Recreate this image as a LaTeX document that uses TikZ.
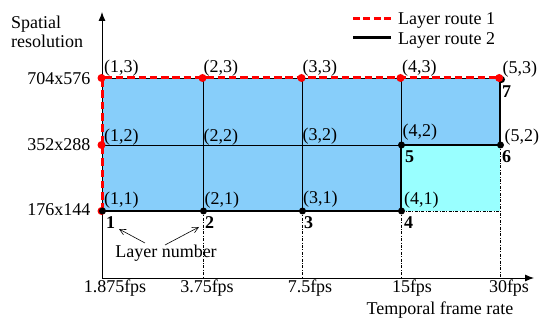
\documentclass[tikz,border=0pt]{standalone}
\usepackage{fontspec}
\setmainfont{Liberation Serif}
\usetikzlibrary{arrows.meta}
\definecolor{skyfill}{HTML}{87CEFA}
\definecolor{cyanfill}{HTML}{99FFFF}
\begin{document}
\begin{tikzpicture}[x=1pt,y=-1pt, font=\fontsize{18}{20}\selectfont,
  gridline/.style={line width=0.8pt},
  routeone/.style={red, line width=3pt, dash pattern=on 7.5pt off 3.8pt},
  routetwo/.style={black, line width=2.8pt},
  dashdot/.style={line width=0.6pt, dash pattern=on 3pt off 1.5pt on 0.8pt off 1.5pt},
  axisline/.style={line width=0.9pt, -{Latex[length=9pt,width=7pt]}},
  pointer/.style={line width=0.6pt, -{Straight Barb[length=6pt,width=6pt]}},
  lab/.style={anchor=base west, inner sep=0pt},
  lnum/.style={anchor=base west, inner sep=0pt, font=\fontsize{18}{20}\selectfont\bfseries},
  txt/.style={inner sep=0pt},
  rdot/.style={circle, fill=red, inner sep=0pt, minimum size=8pt},
  bdot/.style={circle, fill=black, inner sep=0pt, minimum size=7pt}]
\useasboundingbox (0,0) rectangle (542,320);
% grid points
\coordinate (p11) at (102,211); \coordinate (p21) at (203,211); \coordinate (p31) at (302,211);
\coordinate (p41) at (401,211); \coordinate (p51) at (500,211);
\coordinate (p12) at (102,145); \coordinate (p22) at (203,145); \coordinate (p32) at (302,145);
\coordinate (p42) at (401,145); \coordinate (p52) at (500,145);
\coordinate (p13) at (102,78); \coordinate (p23) at (203,78); \coordinate (p33) at (302,78);
\coordinate (p43) at (401,78); \coordinate (p53) at (500,78);
\coordinate (o) at (102,278); \coordinate (ytop) at (102,12); \coordinate (xend) at (534,278);
\coordinate (b2) at (203,278); \coordinate (b3) at (302,278); \coordinate (b4) at (401,278); \coordinate (b5) at (500,278);
% fills
\fill[skyfill] (p11) rectangle (p53);
\fill[cyanfill] (p41) rectangle (p52);
% grid
\draw[gridline] (p12) -- (p42);
\draw[gridline] (p13) -- (p53);
\draw[gridline] (p21) -- (p23);
\draw[gridline] (p31) -- (p33);
\draw[gridline] (p41) -- (p43);
% dash-dot lines
\draw[dashdot] (p21) -- (b2);
\draw[dashdot] (p31) -- (b3);
\draw[dashdot] (p41) -- (b4);
\draw[dashdot] (p52) -- (b5);
\draw[dashdot] (p41) -- (p51);
% axes
\draw[axisline] (o) -- (ytop);
\draw[axisline] (o) -- (xend);
% routes
\draw[routeone] (p11) -- (p13) -- (p53);
\foreach \p in {p11,p12,p13,p23,p33,p43} \node[rdot] at ([xshift=-0.5pt]\p) {};
\draw[routetwo] (p11) -- (p41) -- (p42) -- (p52) -- (p53);
\foreach \p in {p11,p21,p31,p41,p42,p52} \node[bdot] at ([xshift=0.5pt]\p) {};
\node[bdot] at ([shift={(1.5,1.5)}]p53) {};
\node[rdot] at ([xshift=-0.8pt]p53) {};
% point labels
\node[lab] (l13) at ([shift={(2,-5.5)}]p13) {(1,3)};
\node[lab] (l23) at ([shift={(0.5,-5.5)}]p23) {(2,3)};
\node[lab] (l33) at ([shift={(0.5,-5.5)}]p33) {(3,3)};
\node[lab] (l43) at ([shift={(1,-5.5)}]p43) {(4,3)};
\node[lab] (l53) at ([shift={(2.5,-4)}]p53) {(5,3)};
\node[lab] (l12) at ([shift={(2,-3)}]p12) {(1,2)};
\node[lab] (l22) at ([shift={(0.5,-3)}]p22) {(2,2)};
\node[lab] (l32) at ([shift={(0.5,-4.5)}]p32) {(3,2)};
\node[lab] (l42) at ([shift={(1.5,-8)}]p42) {(4,2)};
\node[lab] (l52) at ([shift={(4.5,-3.5)}]p52) {(5,2)};
\node[lab] (l11) at ([shift={(2,-6)}]p11) {(1,1)};
\node[lab] (l21) at ([shift={(1.5,-6)}]p21) {(2,1)};
\node[lab] (l31) at ([shift={(1,-7)}]p31) {(3,1)};
\node[lab] (l41) at ([shift={(3,-6)}]p41) {(4,1)};
% layer numbers
\node[lnum] (n1) at ([shift={(4,18)}]p11) {1};
\node[lnum] (n2) at ([shift={(2,18)}]p21) {2};
\node[lnum] (n3) at ([shift={(2,18)}]p31) {3};
\node[lnum] (n4) at ([shift={(3,18)}]p41) {4};
\node[lnum] (n5) at ([shift={(4,18)}]p42) {5};
\node[lnum] (n6) at ([shift={(2,18)}]p52) {6};
\node[lnum] (n7) at ([shift={(2,20)}]p53) {7};
% layer number annotation
\node[txt, anchor=base] (ln) at (166,258) {Layer number};
\coordinate (a1s) at (145,243); \coordinate (a1e) at (119,229);
\coordinate (a2s) at (165,245); \coordinate (a2e) at (199,227);
\draw[pointer] (a1s) -- (a1e);
\draw[pointer] (a2s) -- (a2e);
% axis labels
\node[txt, anchor=base west] (ys1) at (11,28.5) {Spatial};
\node[txt, anchor=base west] (ys2) at (11,47.5) {resolution};
\node[txt, anchor=base east] (y3) at (90.5,84.5) {704x576};
\node[txt, anchor=base east] (y2) at (90.5,151) {352x288};
\node[txt, anchor=base east] (y1) at (90.5,215.5) {176x144};
\node[txt, anchor=base] (x1) at (115,293) {1.875fps};
\node[txt, anchor=base] (x2) at (207,293) {3.75fps};
\node[txt, anchor=base] (x3) at (310,293) {7.5fps};
\node[txt, anchor=base] (x4) at (412,293) {15fps};
\node[txt, anchor=base] (x5) at (509,293) {30fps};
\node[txt, anchor=base] (xt) at (440,315) {Temporal frame rate};
% legend
\coordinate (g1a) at (353,18.5); \coordinate (g1b) at (391,18.5);
\coordinate (g2a) at (353,37.5); \coordinate (g2b) at (391,37.5);
\draw[routeone, dash pattern=on 7pt off 3.4pt] (g1a) -- (g1b);
\draw[routetwo] (g2a) -- (g2b);
\node[txt, anchor=base west] (lg1) at (398,25) {Layer route 1};
\node[txt, anchor=base west] (lg2) at (398,45) {Layer route 2};
\end{tikzpicture}
\end{document}
